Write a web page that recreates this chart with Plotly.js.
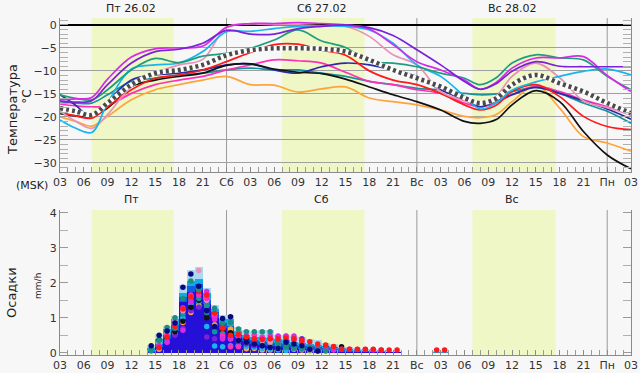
<!DOCTYPE html>
<html><head><meta charset="utf-8">
<script src="https://cdn.plot.ly/plotly-3.0.1.min.js"></script>
<style>html,body{margin:0;padding:0;background:#f7f7f7;} #chart{width:640px;height:373px;}</style>
</head><body><div id="chart"></div>
<script>
// ---- time axis (hours from Fri 00:00 MSK) ----
const dayNames = ['Пт','Сб','Вс','Пн'];
const dayDates = ['26.02','27.02','28.02'];
const dayStarts = [24, 48, 72];
const dayNoons = [12, 36, 60];
const sunrise = [7, 31, 55];
const sunset = [17.33, 41.4, 65.5];
const tickHours = [3,6,9,12,15,18,21,24,27,30,33,36,39,42,45,48,51,54,57,60,63,66,69,72,75];

// ---- temperature ensemble (°C) ----
const tHours = [3,5,7,9,12,15,18,21,24,27,30,33,36,39,42,45,48,51,54,56,58,60,63,66,69,72,75];
const tMagenta = [-16.3,-16.1,-15.8,-11.8,-7.0,-5.2,-5.0,-4.6,-0.5,0.3,0.3,0.5,0.3,0.0,-0.9,-4.3,-8.0,-9.8,-12.0,-14.0,-12.5,-9.4,-7.2,-7.2,-6.9,-11.0,-14.5];
const tViolet  = [-16.6,-16.8,-16.5,-13.0,-8.3,-5.8,-5.3,-4.0,-1.2,-2.0,-2.0,-0.8,-0.3,0.0,-0.6,-2.3,-5.4,-8.7,-12.3,-14.0,-12.8,-10.1,-8.0,-9.0,-9.1,-9.1,-9.1];
const tCyan    = [-20.7,-22.5,-23.4,-17.0,-9.6,-8.7,-8.3,-5.8,-1.5,-1.4,-0.8,-0.3,-0.2,-0.3,-1.1,-4.0,-8.7,-11.2,-15.5,-18.3,-17.0,-14.2,-12.4,-11.2,-10.1,-9.6,-10.9];
const tPink    = [-18.8,-21.0,-22.5,-19.5,-13.4,-10.5,-8.7,-7.5,-0.5,0.2,0.0,0.0,-0.2,-0.3,-2.5,-6.5,-8.7,-14.5,-16.5,-17.0,-15.5,-11.2,-8.3,-11.5,-16.5,-18.0,-19.6];
const tTeal    = [-15.2,-16.0,-16.3,-14.1,-9.8,-7.3,-8.2,-6.8,-6.2,-5.1,-3.3,-1.1,-3.5,-4.9,-8.0,-8.3,-9.1,-10.5,-11.6,-13.0,-11.5,-8.3,-6.5,-7.2,-7.6,-11.2,-14.1];
const tTeal2   = [-16.7,-17.0,-17.0,-15.2,-12.3,-11.6,-10.9,-10.5,-9.8,-9.4,-9.8,-9.8,-10.5,-11.2,-12.3,-13.0,-13.8,-14.1,-14.9,-15.2,-15.0,-14.5,-13.6,-14.9,-17.0,-18.8,-21.4];
const tRed     = [-19.1,-19.8,-20.3,-17.8,-14.1,-11.6,-10.9,-9.8,-8.0,-6.0,-4.3,-4.2,-5.5,-6.6,-10.0,-12.0,-13.0,-14.9,-17.4,-18.5,-17.5,-14.5,-13.0,-15.6,-19.9,-22.1,-22.8];
const tNavy    = [-15.2,-17.5,-20.2,-16.7,-12.0,-10.9,-10.5,-9.8,-8.7,-8.5,-9.8,-10.5,-9.1,-8.3,-8.7,-9.8,-11.2,-14.1,-16.3,-17.8,-16.5,-15.2,-13.6,-14.9,-16.5,-18.3,-20.5];
const tBlack   = [-19.3,-19.8,-20.0,-18.1,-13.4,-12.0,-11.2,-10.5,-8.8,-8.5,-9.6,-10.3,-10.6,-11.8,-13.5,-15.2,-16.7,-18.5,-21.0,-21.4,-20.6,-17.4,-14.3,-16.7,-23.2,-28.3,-31.3];
const tHotpink = [-17.2,-17.6,-17.8,-17.6,-14.9,-13.0,-12.0,-11.2,-9.8,-8.7,-7.6,-7.8,-8.3,-10.3,-12.3,-13.0,-14.1,-14.9,-17.0,-17.8,-17.0,-15.2,-13.4,-14.5,-16.3,-17.8,-19.6];
const tOrange  = [-20.0,-21.0,-22.0,-19.9,-16.3,-14.1,-13.0,-12.0,-11.2,-13.0,-13.1,-14.6,-13.9,-13.5,-15.9,-16.7,-17.4,-18.5,-19.9,-20.2,-19.5,-16.7,-13.2,-18.1,-24.3,-25.7,-27.5];
const tMean    = [-18.1,-18.8,-19.6,-17.0,-13.0,-10.5,-9.8,-8.7,-6.6,-5.5,-5.1,-5.1,-5.2,-5.8,-7.6,-9.8,-11.6,-13.4,-15.9,-17.0,-16.0,-13.0,-10.9,-12.7,-14.5,-17.0,-19.2];

// ---- precipitation (mm/h), hourly columns by start hour ----
const pHours = [14,15,16,17,18,19,20,21,22,23,24,25,26,27,28,29,30,31,32,33,34,35,36,37,38,39,40,41,42,43,44,45,46,47,48,49,50,51];
const pMax    = [0.22,0.53,0.76,1.05,1.93,2.36,2.46,1.85,1.35,1.08,1.08,0.74,0.65,0.63,0.65,0.65,0.50,0.50,0.48,0.45,0.38,0.35,0.27,0.25,0.17,0.15,0.12,0.10,0.10,0.08,0.06,0.06,0,0,0,0,0.04,0.04];
const pHigh   = [0.12,0.40,0.68,0.95,1.70,2.05,2.10,1.70,1.25,0.95,0.95,0.62,0.50,0.45,0.45,0.42,0.38,0.35,0.30,0.28,0.25,0.22,0.20,0.15,0.12,0.10,0.08,0.06,0.05,0.04,0.03,0.03,0,0,0,0,0.02,0.02];
const pMid    = [0.05,0.25,0.50,0.80,1.60,1.90,1.95,1.50,1.15,0.85,0.75,0.50,0.42,0.35,0.32,0.30,0.28,0.25,0.22,0.20,0.18,0.15,0.12,0.10,0.08,0.06,0.05,0.04,0.03,0.02,0.02,0.02,0,0,0,0,0,0];
const pLow    = [0.02,0.17,0.38,0.62,1.45,1.72,1.78,1.40,1.00,0.70,0.60,0.45,0.32,0.25,0.22,0.20,0.18,0.15,0.12,0.10,0.08,0.06,0.05,0.04,0.03,0.02,0.02,0.01,0.01,0.01,0.01,0.01,0,0,0,0,0,0];
const pNavy    = [0.20,0.50,0.62,0.85,1.87,2.25,1.90,1.20,0.75,0.98,1.03,0.35,0.30,0.25,0.20,0.15,0.12,0.30,0.25,0.20,0.10,0.05,0,0,0,0,0,0,0,0,0,0,0,0,0,0,0,0];
const pTeal    = [0.12,0.35,0.72,1.00,1.55,2.05,1.80,1.15,1.27,0.85,0.86,0.68,0.60,0.60,0.60,0.60,0.25,0.20,0.18,0.15,0.14,0.10,0.05,0,0,0,0,0,0,0,0,0,0,0,0,0,0,0];
const pTeal2   = [0.05,0.20,0.35,0.70,1.10,1.50,1.55,1.35,0.60,0.55,0.45,0.35,0.30,0.28,0.25,0.22,0.18,0.15,0.12,0.10,0.08,0.05,0,0,0,0,0,0,0,0,0,0,0,0,0,0,0,0];
const pPink    = [0,0.27,0.52,0.95,1.20,1.60,2.35,1.50,1.10,0.45,0.40,0.45,0.50,0.40,0.35,0.30,0.25,0.48,0.40,0.20,0.10,0,0,0,0,0,0,0,0,0,0,0,0,0,0,0,0,0];
const pHotpink = [0,0.20,0.50,0.85,1.28,1.65,1.65,1.55,1.00,0.50,0.17,0.17,0.48,0.50,0.45,0.40,0.46,0.45,0.35,0.25,0.15,0.12,0.10,0.08,0,0,0,0,0,0,0,0,0,0,0,0,0,0];
const pMagenta = [0,0.20,0.30,0.78,0.64,1.45,1.82,1.75,0.95,0.40,0.40,0.45,0.48,0.40,0.40,0.48,0.48,0.48,0.48,0.30,0.10,0.10,0.10,0.10,0.10,0.10,0.09,0.09,0.08,0.08,0,0,0,0,0,0,0,0];
const pRed     = [0,0.15,0.45,0.75,1.25,1.60,1.75,1.65,1.13,0.70,0.50,0.53,0.45,0.40,0.38,0.40,0.40,0.42,0.40,0.35,0.31,0.25,0.22,0.18,0.10,0.10,0.10,0.10,0.10,0.08,0.08,0.08,0,0,0,0,0.08,0.08];
const pBlack   = [0,0.37,0.40,0.60,0.90,1.30,1.50,1.00,0.98,0.60,0.57,0.38,0.40,0.30,0.25,0.20,0.18,0.17,0.17,0.17,0.15,0.12,0.17,0.15,0.17,0,0,0,0,0,0,0,0,0,0,0,0,0];
const pOrange  = [0,0.10,0.55,0.55,0.86,1.15,1.35,1.35,0.80,0.68,0.68,0.20,0.11,0.12,0.08,0.08,0.11,0.14,0.10,0.08,0.05,0,0,0,0,0,0,0,0,0,0,0,0,0,0,0,0,0];
const pCyan    = [0.10,0.25,0.40,0.70,1.00,1.40,1.45,0.75,0.19,0.17,0.20,0.20,0.18,0.15,0.12,0.10,0.08,0.06,0,0,0,0,0,0,0,0,0,0,0,0,0,0,0,0,0,0,0,0];
const pViolet  = [0,0.15,0.30,0.50,0.70,1.20,1.30,0.45,0.40,0.40,0.40,0.30,0.25,0.20,0.20,0.25,0.30,0.35,0.40,0.40,0.10,0,0,0,0,0,0,0,0,0,0,0,0,0,0,0,0,0];

const C = {magenta:'#d62be6', violet:'#7b22d8', cyan:'#19b4ec', pink:'#e893b6', teal:'#1f9e7e',
  teal2:'#17929a', red:'#ff1a1a', navy:'#2a2aa8', black:'#111111', hotpink:'#ff2fb8', orange:'#ffa33a'};

const tempSeries = [
  [tOrange,C.orange],[tTeal2,C.teal2],[tHotpink,C.hotpink],[tNavy,C.navy],[tBlack,C.black],
  [tRed,C.red],[tPink,C.pink],[tCyan,C.cyan],[tTeal,C.teal],[tMagenta,C.magenta],[tViolet,C.violet]
];
const traces = [];
tempSeries.forEach(([v,c])=>traces.push({x:tHours,y:v,type:'scatter',mode:'lines',
  line:{color:c,width:1.7,shape:'spline',smoothing:1},xaxis:'x',yaxis:'y',hoverinfo:'skip'}));
traces.push({x:tHours,y:tMean,type:'scatter',mode:'lines',line:{color:'#ffffff',width:4.5,shape:'spline'},xaxis:'x',yaxis:'y'});
traces.push({x:tHours,y:tMean,type:'scatter',mode:'lines',line:{color:'#4a4a4a',width:4.5,shape:'spline',dash:'3px,3px'},xaxis:'x',yaxis:'y'});

const pX = pHours.map(h=>h+0.5);
[[pMax,'#a9daf2'],[pHigh,'#12a9e6'],[pMid,'#0c5fe0'],[pLow,'#2410d6']].forEach(([v,c])=>
  traces.push({x:pX,y:v,type:'bar',width:1,marker:{color:c,line:{width:0}},xaxis:'x2',yaxis:'y2'}));
const dotSeries = [
  [pOrange,C.orange],[pCyan,C.cyan],[pViolet,C.violet],[pBlack,C.black],[pTeal2,C.teal2],[pPink,C.pink],
  [pHotpink,C.hotpink],[pMagenta,C.magenta],[pRed,C.red],[pTeal,'#1a8f80'],[pNavy,'#0a0a80']
];
dotSeries.forEach(([v,c])=>traces.push({x:pX,y:v.map(a=>a>0?a:null),type:'scatter',mode:'markers',
  marker:{color:c,size:5.5},xaxis:'x2',yaxis:'y2'}));

const tickText = tickHours.map(h=> h%24===0 ? dayNames[h/24] : String(h%24).padStart(2,'0'));
const axX = (anchor)=>({anchor:anchor,range:[3,75],tickvals:tickHours,ticktext:tickText,ticks:'inside',ticklen:5,
  tickcolor:'#8a8a8a',showgrid:false,zeroline:false,showline:true,linecolor:'#8a8a8a',linewidth:1,
  tickfont:{size:11,color:'#333'},minor:{ticks:'inside',dtick:1,tick0:3,ticklen:5,tickcolor:'#9a9a9a',showgrid:false},fixedrange:true});

const shapes = [];
[['x','y domain'],['x2','y2 domain']].forEach(([xr,yr])=>{
  sunrise.forEach((s,i)=>shapes.push({type:'rect',xref:xr,yref:yr,x0:s,x1:sunset[i],y0:0,y1:1,
    fillcolor:'#eff7c7',line:{width:0},layer:'below'}));
  dayStarts.forEach(d=>shapes.push({type:'line',xref:xr,yref:yr,x0:d,x1:d,y0:0,y1:1,
    line:{color:'#9a9a9a',width:1},layer:'below'}));
});

const annotations = [];
dayNoons.forEach((n,i)=>{
  annotations.push({xref:'x',yref:'paper',x:n,y:1,yanchor:'bottom',yshift:1,showarrow:false,
    text:dayNames[i]+' '+dayDates[i],font:{size:11,color:'#222'}});
  annotations.push({xref:'x2',yref:'paper',x:n,y:0.4303,yanchor:'bottom',yshift:2,showarrow:false,
    text:dayNames[i],font:{size:11,color:'#222'}});
});
const sideText = (text,xs,y,size,rot)=>annotations.push({xref:'paper',yref:'paper',x:0,xshift:xs,y:y,
  xanchor:'center',yanchor:'middle',textangle:rot,showarrow:false,text:text,font:{size:size,color:'#222'}});
sideText('Температура',-48,0.727,13,-90);
sideText('°C',-33,0.766,12,-90);
sideText('(MSK)',-28,0.504,11,0);
sideText('Осадки',-48,0.184,13,-90);
sideText('mm/h',-22,0.205,9,-90);

const layout = {
  width:640,height:373,paper_bgcolor:'#f7f7f7',plot_bgcolor:'#f7f7f7',
  margin:{l:60,r:9,t:18,b:18},showlegend:false,barmode:'overlay',bargap:0,
  font:{family:'DejaVu Sans, sans-serif',size:11,color:'#222'},
  xaxis:axX('y'),
  xaxis2:axX('y2'),
  yaxis:{domain:[0.543,1],anchor:'x',range:[-32,1.5],tickvals:[0,-5,-10,-15,-20,-25,-30],ticks:'inside',ticklen:8,
    tickcolor:'#9a9a9a',showgrid:true,gridcolor:'#a0a0a0',gridwidth:1,zeroline:true,zerolinecolor:'#000',zerolinewidth:2,
    showline:true,linecolor:'#8a8a8a',mirror:'ticks',tickfont:{size:11,color:'#333'},
    minor:{ticks:'inside',dtick:1,ticklen:8,tickcolor:'#b0b0b0',showgrid:false},fixedrange:true},
  yaxis2:{domain:[0,0.4303],anchor:'x2',range:[-0.066,4.077],tickvals:[0,1,2,3,4],ticks:'inside',ticklen:8,
    tickcolor:'#9a9a9a',showgrid:false,zeroline:false,showline:true,linecolor:'#8a8a8a',mirror:'ticks',
    tickfont:{size:11,color:'#333'},minor:{ticks:'inside',dtick:0.5,ticklen:8,tickcolor:'#b0b0b0',showgrid:false},fixedrange:true},
  shapes:shapes,annotations:annotations
};
Plotly.newPlot('chart',traces,layout,{staticPlot:true,displayModeBar:false});
</script></body></html>
